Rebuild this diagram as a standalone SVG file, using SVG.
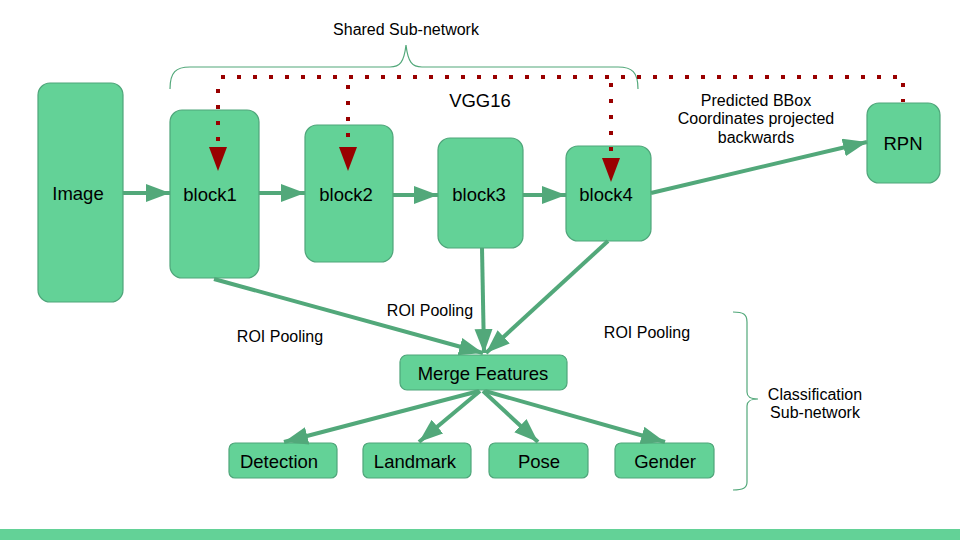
<svg xmlns="http://www.w3.org/2000/svg" width="960" height="540" viewBox="0 0 960 540">
<style>
.node rect{fill:#63d297;stroke:#4fa57a;stroke-width:1.2}
.node text{font-family:"Liberation Sans",Arial,sans-serif;font-size:18.5px;fill:#000;text-anchor:middle;dominant-baseline:central}
.lbl{font-family:"Liberation Sans",Arial,sans-serif;font-size:16px;fill:#000;text-anchor:middle}
.g{stroke:#52a87a;stroke-width:4;fill:none;marker-end:url(#ga)}
.r{stroke:#990000;stroke-width:4;fill:none;stroke-dasharray:4 12}
.brace{stroke:#52a87a;stroke-width:1.2;fill:none}
</style>
<defs>
<marker id="ga" markerUnits="userSpaceOnUse" markerWidth="26" markerHeight="20" refX="24" refY="9" orient="auto"><path d="M0,0 L24,9 L0,18 z" fill="#52a87a"/></marker>
<marker id="ra" markerUnits="userSpaceOnUse" markerWidth="26" markerHeight="20" refX="0" refY="9" orient="auto"><path d="M0,0 L24,9 L0,18 z" fill="#990000"/></marker>
</defs>
<rect width="960" height="540" fill="#fff"/>
<rect x="0" y="529" width="960" height="11" fill="#63d297"/>

<path class="brace" d="M170,89 C170,72 176,67 190,67 H390 C400,67 404,62 406,45 C408,62 412,67 422,67 H618 C632,67 638,72 638,89"/>
<path class="brace" d="M733,312 C743,312 747,314 747,322 V392 C747,397 750,399 758,399 C750,399 747,401 747,406 V482 C747,488 743,490 733,490"/>

<text class="lbl" x="406" y="35">Shared Sub-network</text>
<text class="lbl" x="480" y="107" style="font-size:18.5px">VGG16</text>
<text class="lbl" x="756" y="106">Predicted BBox</text>
<text class="lbl" x="756" y="124">Coordinates projected</text>
<text class="lbl" x="756" y="143">backwards</text>
<text class="lbl" x="280" y="342">ROI Pooling</text>
<text class="lbl" x="430" y="316">ROI Pooling</text>
<text class="lbl" x="647" y="338">ROI Pooling</text>
<text class="lbl" x="815" y="400">Classification</text>
<text class="lbl" x="815" y="418">Sub-network</text>

<g id="image" class="node"><rect x="38" y="83" width="85" height="219" rx="12"/><text x="78" y="193">Image</text></g>
<g id="block1" class="node"><rect x="170" y="110" width="89" height="168" rx="12"/><text x="210" y="194">block1</text></g>
<g id="block2" class="node"><rect x="305" y="125" width="88" height="137" rx="12"/><text x="346" y="194">block2</text></g>
<g id="block3" class="node"><rect x="438" y="138" width="85" height="110" rx="12"/><text x="479" y="194">block3</text></g>
<g id="block4" class="node"><rect x="566" y="146" width="85" height="95" rx="12"/><text x="606" y="194">block4</text></g>
<g id="rpn" class="node"><rect x="867" y="103" width="73" height="80" rx="12"/><text x="903" y="143">RPN</text></g>
<g id="merge" class="node"><rect x="400" y="355" width="167" height="35" rx="7"/><text x="483" y="373">Merge Features</text></g>
<g id="detection" class="node"><rect x="229" y="443" width="108" height="35" rx="6"/><text x="279" y="461">Detection</text></g>
<g id="landmark" class="node"><rect x="363" y="443" width="108" height="35" rx="6"/><text x="415" y="461">Landmark</text></g>
<g id="pose" class="node"><rect x="489" y="443" width="99" height="35" rx="6"/><text x="539" y="461">Pose</text></g>
<g id="gender" class="node"><rect x="615" y="443" width="99" height="35" rx="6"/><text x="665" y="461">Gender</text></g>

<g id="connectors">
<path class="g" d="M123,193 H170"/>
<path class="g" d="M259,193 H305"/>
<path class="g" d="M393,195 H438"/>
<path class="g" d="M523,195 H566"/>
<path class="g" d="M651,193 L867,142"/>
<path class="g" d="M214,279 L483,353"/>
<path class="g" d="M482,248 L484,353"/>
<path class="g" d="M608,241 L486,353"/>
<path class="g" d="M479,391 L284,442"/>
<path class="g" d="M480,391 L419,442"/>
<path class="g" d="M483,391 L538,442"/>
<path class="g" d="M485,391 L665,442"/>
<path class="r" d="M221,77 H903 V102"/>
<path class="r" d="M218,89 V147" style="marker-end:url(#ra)"/>
<path class="r" d="M348,85 V147" style="marker-end:url(#ra)"/>
<path class="r" d="M611,83 V158" style="marker-end:url(#ra)"/>
</g>
</svg>
